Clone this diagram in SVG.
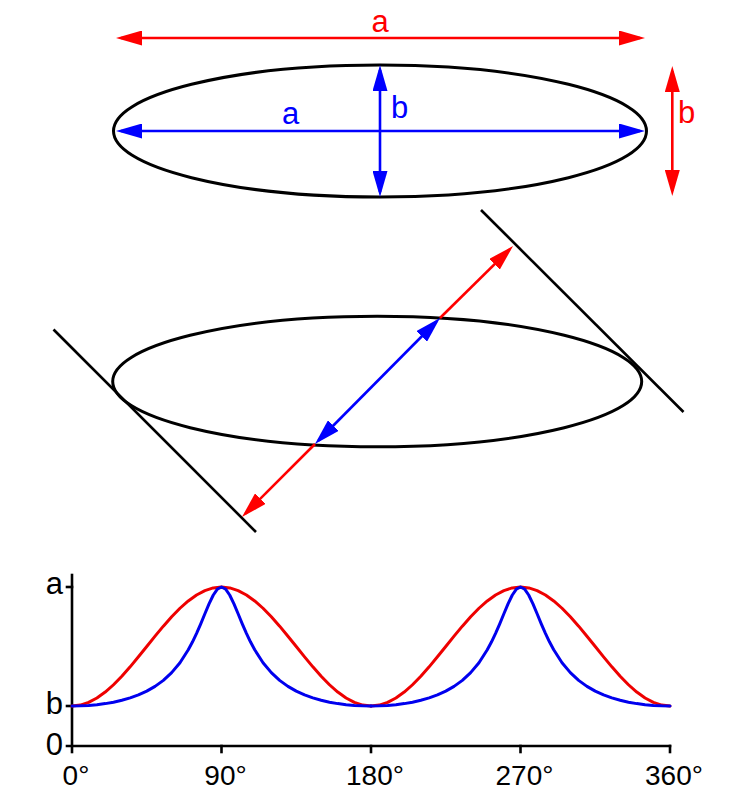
<svg xmlns="http://www.w3.org/2000/svg" xmlns:xlink="http://www.w3.org/1999/xlink" width="750" height="800" viewBox="0 0 750 800">
  <style>
    .outline { fill: none; stroke: #000; stroke-width: 3; }
    .tangent { fill: none; stroke: #000; stroke-width: 2.6; }
    .red { stroke: #ff0000; stroke-width: 2.6; fill: none; }
    .blue { stroke: #0000ff; stroke-width: 2.6; fill: none; }
    .axis { stroke: #000; stroke-width: 2.6; fill: none; stroke-linecap: square; }
    .curve-red { stroke: #ee0000; stroke-width: 3; fill: none; stroke-linejoin: round; stroke-linecap: round; }
    .curve-blue { stroke: #0000ee; stroke-width: 3; fill: none; stroke-linejoin: round; stroke-linecap: round; }
    .lbl { font-family: "Liberation Sans", Arial, sans-serif; font-size: 31px; }
    .axlbl { font-family: "Liberation Sans", Arial, sans-serif; font-size: 28px; fill: #000; }
    .ylbl { font-family: "Liberation Sans", Arial, sans-serif; font-size: 31px; fill: #000; }
    .red-arrow { marker-start: url(#headRed); marker-end: url(#headRed); }
    .blue-arrow { marker-start: url(#headBlue); marker-end: url(#headBlue); }
  </style>
  <defs>
    <marker id="headRed" markerUnits="userSpaceOnUse" viewBox="0 0 26 15" refX="21" refY="7.5" markerWidth="26" markerHeight="15" orient="auto-start-reverse">
      <path d="M0,0 L26,7.5 L0,15 z" fill="#ff0000"/>
    </marker>
    <marker id="headBlue" markerUnits="userSpaceOnUse" viewBox="0 0 26 15" refX="21" refY="7.5" markerWidth="26" markerHeight="15" orient="auto-start-reverse">
      <path d="M0,0 L26,7.5 L0,15 z" fill="#0000ff"/>
    </marker>
    <path id="redHalf" d="M72,706 L80.31,705.10 L88.61,702.41 L96.92,698.03 L105.22,692.08 L113.53,684.75 L121.83,676.25 L130.14,666.85 L138.44,656.83 L146.75,646.5 L155.06,636.17 L163.36,626.15 L171.67,616.75 L179.97,608.25 L188.28,600.92 L196.58,594.97 L204.89,590.59 L213.19,587.90 L221.5,587 L229.81,587.90 L238.11,590.59 L246.42,594.97 L254.72,600.92 L263.03,608.25 L271.33,616.75 L279.64,626.15 L287.94,636.17 L296.25,646.5 L304.56,656.83 L312.86,666.85 L321.17,676.25 L329.47,684.75 L337.78,692.08 L346.08,698.03 L354.39,702.41 L362.69,705.10 L371,706"/>
    <path id="blueHalf" d="M72,706 L80.31,705.86 L88.61,705.42 L96.92,704.68 L105.22,703.61 L113.53,702.17 L121.83,700.29 L130.14,697.91 L138.44,694.91 L146.75,691.14 L155.06,686.39 L163.36,680.37 L171.67,672.66 L179.97,662.70 L188.28,649.79 L192.43,642.03 L196.58,633.33 L200.74,623.81 L204.89,613.79 L209.04,603.91 L213.19,595.25 L217.35,589.19 L221.5,587 L225.65,589.19 L229.81,595.25 L233.96,603.91 L238.11,613.79 L242.26,623.81 L246.42,633.33 L250.57,642.03 L254.72,649.79 L263.03,662.70 L271.33,672.66 L279.64,680.37 L287.94,686.39 L296.25,691.14 L304.56,694.91 L312.86,697.91 L321.17,700.29 L329.47,702.17 L337.78,703.61 L346.08,704.68 L354.39,705.42 L362.69,705.86 L371,706"/>
  </defs>

  <rect width="750" height="800" fill="#fff"/>

  <!-- Top ellipse -->
  <g id="top-ellipse">
    <ellipse class="outline" cx="380" cy="131" rx="266.5" ry="66"/>
  </g>

  <!-- Middle ellipse with tangent lines -->
  <g id="middle-ellipse">
    <ellipse class="outline" cx="377.2" cy="381.5" rx="264.5" ry="65.3"/>
  </g>
  <g id="tangent-lines">
    <line class="tangent" x1="481" y1="210" x2="683.5" y2="412"/>
    <line class="tangent" x1="53.5" y1="329.5" x2="256" y2="532"/>
  </g>

  <!-- Connectors / dimension arrows -->
  <g id="connectors">
    <line class="red red-arrow" x1="121" y1="38" x2="640" y2="38"/>
    <line class="red red-arrow" x1="672.3" y1="71" x2="672.3" y2="191"/>
    <line class="blue blue-arrow" x1="121" y1="131" x2="640" y2="131"/>
    <line class="blue blue-arrow" x1="380" y1="70" x2="380" y2="192"/>
    <line class="red" x1="440" y1="318" x2="509.5" y2="249.5" marker-end="url(#headRed)"/>
    <line class="red" x1="315" y1="444" x2="245.5" y2="513.5" marker-end="url(#headRed)"/>
    <line class="blue blue-arrow" x1="318.5" y1="440.5" x2="436.5" y2="321.5"/>
  </g>

  <!-- Labels -->
  <g id="labels">
    <text class="lbl" x="380" y="32" text-anchor="middle" fill="#ff0000">a</text>
    <text class="lbl" x="290.5" y="124" text-anchor="middle" fill="#0000ff">a</text>
    <text class="lbl" x="391" y="118" fill="#0000ff">b</text>
    <text class="lbl" x="678" y="123" fill="#ff0000">b</text>
  </g>

  <!-- Graph -->
  <g id="graph">
    <line class="axis" x1="72" y1="575" x2="72" y2="752"/>
    <line class="axis" x1="67" y1="746" x2="670" y2="746"/>
    <line class="axis" x1="67" y1="587" x2="72" y2="587"/>
    <line class="axis" x1="67" y1="706" x2="72" y2="706"/>
    <line class="axis" x1="221.5" y1="746" x2="221.5" y2="752"/>
    <line class="axis" x1="371" y1="746" x2="371" y2="752"/>
    <line class="axis" x1="520.5" y1="746" x2="520.5" y2="752"/>
    <line class="axis" x1="670" y1="746" x2="670" y2="752"/>

    <use xlink:href="#redHalf" href="#redHalf" class="curve-red"/>
    <use xlink:href="#redHalf" href="#redHalf" class="curve-red" transform="translate(299,0)"/>
    <use xlink:href="#blueHalf" href="#blueHalf" class="curve-blue"/>
    <use xlink:href="#blueHalf" href="#blueHalf" class="curve-blue" transform="translate(299,0)"/>

    <text class="ylbl" x="63" y="594" text-anchor="end">a</text>
    <text class="ylbl" x="63" y="714" text-anchor="end">b</text>
    <text class="ylbl" x="63" y="755" text-anchor="end">0</text>

    <text class="axlbl" x="76" y="785" text-anchor="middle">0°</text>
    <text class="axlbl" x="225.5" y="785" text-anchor="middle">90°</text>
    <text class="axlbl" x="375" y="785" text-anchor="middle">180°</text>
    <text class="axlbl" x="524.5" y="785" text-anchor="middle">270°</text>
    <text class="axlbl" x="674" y="785" text-anchor="middle">360°</text>
  </g>
</svg>
